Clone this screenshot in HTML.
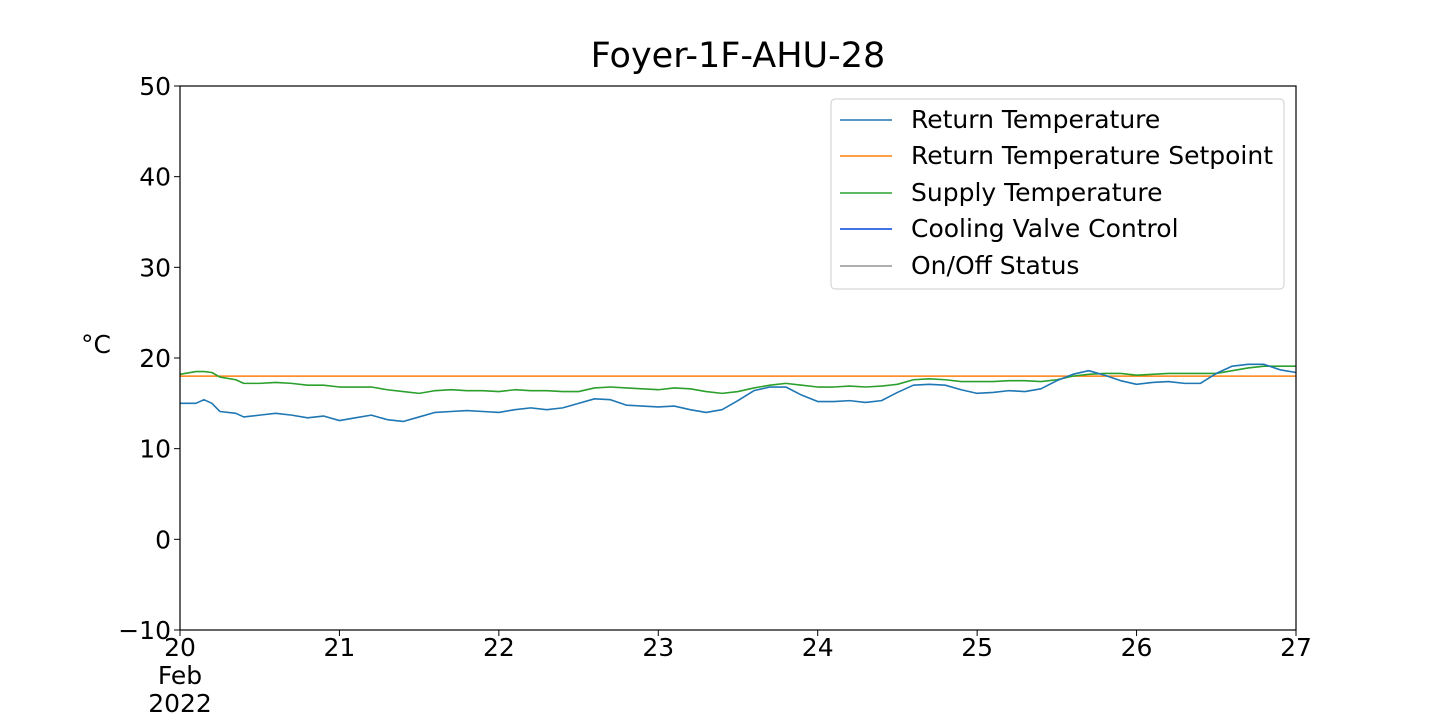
<!DOCTYPE html>
<html><head><meta charset="utf-8"><style>
body{margin:0;background:#fff;}
svg text{font-family:"DejaVu Sans","Liberation Sans",sans-serif;fill:#000;}
</style></head><body>
<svg width="1440" height="720" xmlns="http://www.w3.org/2000/svg">
<text x="738" y="67" font-size="35" text-anchor="middle">Foyer-1F-AHU-28</text>
<text x="96" y="353" font-size="25" text-anchor="middle">°C</text>
<g id="axes"></g>
<g id="series"></g>
<rect x="180" y="86" width="1116" height="544" fill="none" stroke="#000" stroke-width="1.2"/>
<g>
<rect x="831" y="99" width="453" height="190" rx="4" fill="#fff" fill-opacity="0.8" stroke="#ccc"/>
<g><line x1="840" y1="120" x2="892" y2="120" stroke="#1f77b4" stroke-width="1.5"/><text x="911" y="128" font-size="25">Return Temperature</text></g>
<g><line x1="840" y1="156" x2="892" y2="156" stroke="#ff7f0e" stroke-width="1.5"/><text x="911" y="164" font-size="25">Return Temperature Setpoint</text></g>
<g><line x1="840" y1="193" x2="892" y2="193" stroke="#2ca02c" stroke-width="1.5"/><text x="911" y="201" font-size="25">Supply Temperature</text></g>
<g><line x1="840" y1="229" x2="892" y2="229" stroke="#0343df" stroke-width="1.5"/><text x="911" y="237" font-size="25">Cooling Valve Control</text></g>
<g><line x1="840" y1="266" x2="892" y2="266" stroke="#929591" stroke-width="1.5"/><text x="911" y="274" font-size="25">On/Off Status</text></g>
</g>
</svg>
<script>
const xTicks=[20,21,22,23,24,25,26,27];
const yTicks=[-10,0,10,20,30,40,50];
const days=[20.0,20.1,20.15,20.2,20.25,20.35,20.4,20.5,20.6,20.7,20.8,20.9,21.0,21.1,21.2,21.3,21.4,21.5,21.6,21.7,21.8,21.9,22.0,22.1,22.2,22.3,22.4,22.5,22.6,22.7,22.8,22.9,23.0,23.1,23.2,23.3,23.4,23.5,23.6,23.7,23.8,23.9,24.0,24.1,24.2,24.3,24.4,24.5,24.6,24.7,24.8,24.9,25.0,25.1,25.2,25.3,25.4,25.5,25.6,25.7,25.8,25.9,26.0,26.1,26.2,26.3,26.4,26.5,26.6,26.7,26.8,26.9,27.0];
const returnTemp=[15.0,15.0,15.4,15.0,14.1,13.9,13.5,13.7,13.9,13.7,13.4,13.6,13.1,13.4,13.7,13.2,13.0,13.5,14.0,14.1,14.2,14.1,14.0,14.3,14.5,14.3,14.5,15.0,15.5,15.4,14.8,14.7,14.6,14.7,14.3,14.0,14.3,15.3,16.4,16.8,16.8,15.9,15.2,15.2,15.3,15.1,15.3,16.2,17.0,17.1,17.0,16.5,16.1,16.2,16.4,16.3,16.6,17.5,18.2,18.6,18.1,17.5,17.1,17.3,17.4,17.2,17.2,18.3,19.1,19.3,19.3,18.7,18.4];
const supplyTemp=[18.2,18.5,18.5,18.4,17.9,17.6,17.2,17.2,17.3,17.2,17.0,17.0,16.8,16.8,16.8,16.5,16.3,16.1,16.4,16.5,16.4,16.4,16.3,16.5,16.4,16.4,16.3,16.3,16.7,16.8,16.7,16.6,16.5,16.7,16.6,16.3,16.1,16.3,16.7,17.0,17.2,17.0,16.8,16.8,16.9,16.8,16.9,17.1,17.6,17.7,17.6,17.4,17.4,17.4,17.5,17.5,17.4,17.6,18.0,18.2,18.3,18.3,18.1,18.2,18.3,18.3,18.3,18.3,18.6,18.9,19.1,19.1,19.1];
const setpoint=[18,18];
const setpointDays=[20,27];
const NS="http://www.w3.org/2000/svg";
const X=d=>180+(d-20)/7*1116;
const Y=v=>630-(v+10)/60*544;
const axes=document.getElementById('axes');
const series=document.getElementById('series');
function mk(tag,attrs,parent){const e=document.createElementNS(NS,tag);for(const k in attrs)e.setAttribute(k,attrs[k]);parent.appendChild(e);return e;}
xTicks.forEach((t,i)=>{
  const g=mk('g',{},axes);
  
  
  mk('line',{x1:X(t),x2:X(t),y1:630,y2:636,stroke:'#000'},g);
  const tx=mk('text',{x:X(t),y:656,'font-size':25,'text-anchor':'middle'},g);
  tx.textContent=String(t);
  if(i===0){
    const a=mk('text',{x:X(t),y:684,'font-size':25,'text-anchor':'middle'},g);a.textContent='Feb';
    const b=mk('text',{x:X(t),y:712,'font-size':25,'text-anchor':'middle'},g);b.textContent='2022';
  }
});
yTicks.forEach(t=>{
  const g=mk('g',{},axes);
  
  
  mk('line',{x1:174,x2:180,y1:Y(t),y2:Y(t),stroke:'#000'},g);
  const tx=mk('text',{x:171,y:Y(t)+9,'font-size':25,'text-anchor':'end'},g);
  tx.textContent=t<0?'\u2212'+Math.abs(t):String(t);
});
function line(xs,ys,color,name){
  const p=mk('polyline',{points:xs.map((d,i)=>X(d)+','+Y(ys[i])).join(' '),fill:'none',stroke:color,'stroke-width':1.6,'stroke-linejoin':'round'},series);
  
  
}
line(setpointDays,setpoint,'#ff7f0e','setpoint-line');
line(days,supplyTemp,'#2ca02c','supply-temperature-line');
line(days,returnTemp,'#1f77b4','return-temperature-line');
</script>
</body></html>
